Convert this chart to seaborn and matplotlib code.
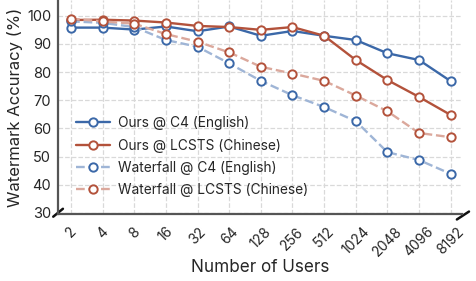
import matplotlib
matplotlib.use("Agg")
import matplotlib.pyplot as plt
import numpy as np
import pandas as pd
import seaborn as sns

users = [2, 4, 8, 16, 32, 64, 128, 256, 512, 1024, 2048, 4096, 8192]
ours_c4 = [95.8, 95.8, 95.1, 96.2, 94.5, 96.2, 92.9, 94.6, 92.9, 91.4, 86.7, 84.3, 76.8]
ours_lcsts = [98.5, 98.6, 98.3, 97.6, 96.4, 96.0, 95.0, 96.0, 92.9, 84.3, 77.2, 71.2, 64.8]
wf_c4 = [98.0, 97.5, 96.0, 91.4, 89.0, 83.1, 76.9, 71.8, 67.6, 62.6, 51.6, 48.8, 43.9]
wf_lcsts = [99.0, 98.0, 97.2, 93.5, 90.8, 87.0, 81.9, 79.5, 76.9, 71.7, 66.1, 58.4, 56.9]

blue = "#3b68a8"
red = "#b3523b"
light_blue = "#9fb5d6"
light_red = "#dba89c"

sns.set_style("white")
plt.rcParams["font.family"] = ["Inter", "DejaVu Sans"]

fig = plt.figure(figsize=(4.76, 2.81), dpi=100)
ax = fig.add_axes([0.122, 0.238, 0.848, 0.762])

pos = np.arange(len(users))
series = [
    ("Ours @ C4 (English)", ours_c4, blue, blue, "-"),
    ("Ours @ LCSTS (Chinese)", ours_lcsts, red, red, "-"),
    ("Waterfall @ C4 (English)", wf_c4, light_blue, blue, "--"),
    ("Waterfall @ LCSTS (Chinese)", wf_lcsts, light_red, red, "--"),
]
for name, vals, lc, mc, ls in series:
    df = pd.DataFrame({"x": pos, "y": vals})
    sns.lineplot(data=df, x="x", y="y", ax=ax, color=lc, linestyle=ls,
                 linewidth=1.7, marker="o", markersize=6, markerfacecolor="white",
                 markeredgecolor=mc, markeredgewidth=1.4, label=name)

ax.set_xlim(-0.41, 12.35)
ax.set_ylim(29.6, 105.6)
ax.set_yticks([30, 40, 50, 60, 70, 80, 90, 100])
ax.set_xticks(pos)
ax.set_xticklabels([str(u) for u in users], rotation=45, ha="center", va="top",
                   fontsize=10.1)
ax.tick_params(axis="y", labelsize=10.5, length=3, width=1, color="#222222",
               direction="out", pad=2)
ax.tick_params(axis="x", length=4, width=1, color="#222222", direction="out", pad=3.5)
ax.grid(True, linestyle="--", color="#d9d9d9", linewidth=0.9)
ax.set_axisbelow(True)

for s in ["top", "right"]:
    ax.spines[s].set_visible(False)
for s in ["left", "bottom"]:
    ax.spines[s].set_color("#555555")
    ax.spines[s].set_linewidth(1.6)

# axis break marks
kw = dict(transform=ax.transAxes, color="#111111", clip_on=False, linewidth=1.8)
ax.plot([-0.012, 0.012], [-0.012, 0.025], **kw)
ax.plot([0.988, 1.018], [-0.025, 0.012], **kw)

ax.set_xlabel("Number of Users", fontsize=12.3)
ax.xaxis.set_label_coords(0.5, -0.21)
ax.set_ylabel("Watermark Accuracy (%)", fontsize=12, labelpad=3)

leg = ax.legend(loc="lower left", bbox_to_anchor=(0.02, 0.035), frameon=False,
                fontsize=9.9, handlelength=2.5, labelspacing=0.6, borderpad=0.2,
                handletextpad=0.6)

fig.savefig("out.png", dpi=100)
